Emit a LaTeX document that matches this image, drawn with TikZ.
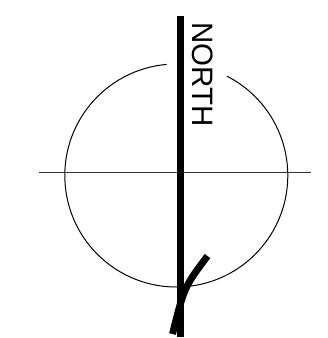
\documentclass[tikz,border=0pt]{standalone}
\usepackage{fontspec}
\setmainfont{Liberation Sans}
\begin{document}
\begin{tikzpicture}[x=1pt,y=-1pt,
  thin line/.style={line width=1pt,black},
  axis line/.style={line width=1.4pt,black!80},
  needle/.style={line width=6.7pt,black,line cap=butt},
  bent/.style={line width=7pt,black,line cap=butt}]
\useasboundingbox (0,0) rectangle (328,338);
% circle with gap at top
\draw[thin line] (176.3,175.5) ++(95:111.5 and -111.5) arc[start angle=95,end angle=423,x radius=111.5,y radius=-111.5];
% horizontal line
\draw[axis line] (39.3,172.7) -- (310.7,172.7);
% vertical needle
\draw[needle] (180.6,16) -- (180.6,336.5);
% bent stroke
\draw[bent] (172.5,334) .. controls (184.25,287) .. (207.5,256);
% label
\node[rotate=-90,anchor=base west,inner sep=0pt,font=\fontsize{29.5}{29.5}\selectfont] (north) at (192,22) {NORTH};
\end{tikzpicture}
\end{document}
